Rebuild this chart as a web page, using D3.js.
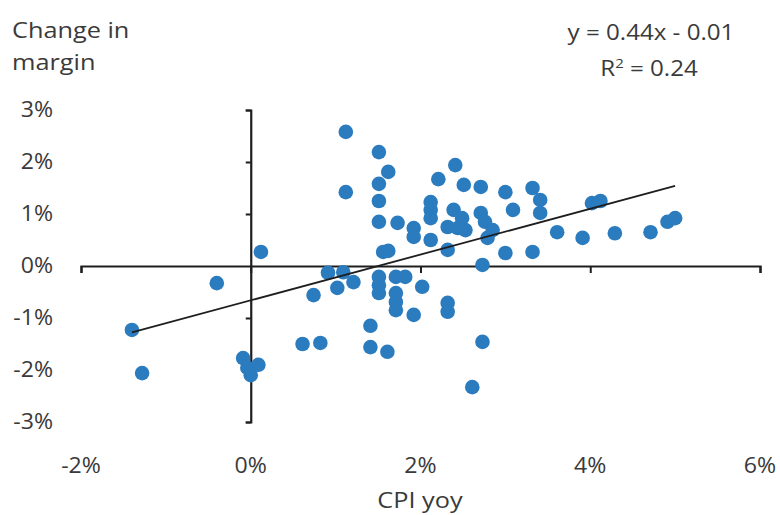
<!DOCTYPE html>
<html>
<head>
<meta charset="utf-8">
<script src="https://cdn.jsdelivr.net/npm/d3@7"></script>
<style>
  html, body { margin: 0; padding: 0; background: #fff; }
  svg { display: block; }
  text { font-family: "Open Sans", "Noto Sans", sans-serif; fill: #3a3a3a; }
</style>
</head>
<body>
<svg id="chart" width="780" height="515"></svg>
<script>
// CPI year-on-year inflation (%), one entry per observation
const cpiYoy = [
  -1.40, -1.28, -0.40, 0.12, -0.09, 0.09, 0.00, -0.04, 0.61, 0.82,
  0.74, 1.12, 1.12, 0.91, 1.09, 1.21, 1.02, 1.41, 1.41, 1.61,
  1.51, 1.62, 1.51, 1.51, 1.51, 1.73, 1.92, 1.92, 1.56, 1.62,
  1.51, 1.51, 1.51, 1.71, 1.82, 1.71, 1.71, 1.71, 2.02, 1.92,
  2.12, 2.12, 2.12, 2.12, 2.21, 2.41, 2.51, 2.71, 3.00, 2.39,
  2.49, 2.32, 2.44, 2.53, 2.71, 2.76, 2.85, 2.79, 2.32, 2.32,
  2.32, 2.73, 2.73, 2.61, 3.00, 3.09, 3.32, 3.41, 3.41, 3.32,
  3.61, 3.91, 4.02, 4.12, 4.29, 4.71, 4.91, 5.00
];

// Change in margin (%), same order as cpiYoy
const marginChange = [
  -1.23, -2.06, -0.33, 0.27, -1.77, -1.90, -2.10, -1.96, -1.50, -1.48,
  -0.56, 2.58, 1.42, -0.13, -0.12, -0.31, -0.42, -1.15, -1.56, -1.65,
  2.19, 1.81, 1.58, 1.25, 0.85, 0.83, 0.73, 0.56, 0.27, 0.29,
  -0.21, -0.37, -0.52, -0.21, -0.21, -0.52, -0.69, -0.85, -0.40, -0.94,
  1.23, 1.08, 0.92, 0.50, 1.67, 1.94, 1.56, 1.52, 1.42, 1.08,
  0.92, 0.75, 0.73, 0.69, 1.02, 0.85, 0.69, 0.54, 0.31, -0.71,
  -0.88, 0.02, -1.46, -2.33, 0.25, 1.08, 1.50, 1.27, 1.02, 0.27,
  0.65, 0.54, 1.21, 1.25, 0.63, 0.65, 0.85, 0.92
];

// Linear trend (decimal units) and its fit
const trendSlope = 0.44;
const trendIntercept = -0.0066;
const trendR2 = 0.24;

// Axis ticks (%)
const xTicks = [-2, 0, 2, 4, 6];
const yTicks = [-3, -2, -1, 0, 1, 2, 3];

const yTitleLines = ["Change in", "margin"];
const xTitle = "CPI yoy";

const svg = d3.select("#chart");

const x = d3.scaleLinear().domain([-2, 6]).range([81, 760]);
const y = d3.scaleLinear().domain([-3, 3]).range([422, 110]);

const pct = v => `${v}%`;

// slightly widened lettering
const widen = (sel, k, ax, ay) => sel.attr("transform", `translate(${ax},${ay}) scale(${k},1) translate(${-ax},${-ay})`);

// x axis along y = 0
const xAxis = svg.append("g")
  .attr("transform", `translate(0,${y(0)})`)
  .call(d3.axisBottom(x).tickValues(xTicks).tickSize(7).tickFormat(""));
xAxis.select(".domain").attr("stroke", "#1e1e1e").attr("stroke-width", 2.2);
xAxis.selectAll(".tick line").attr("stroke", "#1e1e1e").attr("stroke-width", 2);

// y axis along x = 0
const yAxis = svg.append("g")
  .attr("transform", `translate(${x(0)},0)`)
  .call(d3.axisLeft(y).tickValues(yTicks.filter(d => d !== 0)).tickSize(5).tickFormat(""));
yAxis.select(".domain").attr("stroke", "#1e1e1e").attr("stroke-width", 2.2);
yAxis.selectAll(".tick line").attr("stroke", "#1e1e1e").attr("stroke-width", 2);

// tick labels
svg.append("g").selectAll("text")
  .data(xTicks).join("text")
  .attr("x", d => x(d)).attr("y", 473)
  .attr("text-anchor", "middle")
  .attr("font-size", 21)
  .each(function(d) { widen(d3.select(this), 1.1, x(d), 473); })
  .text(pct);

svg.append("g").selectAll("text")
  .data(yTicks).join("text")
  .attr("x", 53).attr("y", d => y(d) + 7)
  .attr("text-anchor", "end")
  .attr("font-size", 21)
  .each(function(d) { widen(d3.select(this), 1.1, 53, y(d)); })
  .text(pct);

// axis titles
widen(svg.append("text")
  .attr("x", 420).attr("y", 508)
  .attr("text-anchor", "middle")
  .attr("font-size", 22)
  .text(xTitle), 1.15, 420, 508);

svg.append("g").selectAll("text")
  .data(yTitleLines).join("text")
  .attr("x", 12).attr("y", (d, i) => 38 + i * 32)
  .attr("font-size", 22)
  .each(function(d, i) { widen(d3.select(this), 1.15, 12, 38 + i * 32); })
  .text(d => d);

// points
const points = cpiYoy.map((v, i) => ({ x: v, y: marginChange[i] }));
svg.append("g").selectAll("circle")
  .data(points).join("circle")
  .attr("cx", d => x(d.x))
  .attr("cy", d => y(d.y))
  .attr("r", 7.3)
  .attr("fill", "#2b7bbf");

// trend line across the data range (percent units)
const xMin = d3.min(cpiYoy), xMax = d3.max(cpiYoy);
const trend = v => trendSlope * v + trendIntercept * 100;
svg.append("line")
  .attr("x1", x(xMin)).attr("y1", y(trend(xMin)))
  .attr("x2", x(xMax)).attr("y2", y(trend(xMax)))
  .attr("stroke", "#1e1e1e")
  .attr("stroke-width", 1.8);

// trend equation
const f2 = d3.format(".2f");
const eqText = `y = ${f2(trendSlope)}x ${trendIntercept < 0 ? "-" : "+"} ${f2(Math.abs(trendIntercept))}`;
widen(svg.append("text")
  .attr("x", 651).attr("y", 40)
  .attr("text-anchor", "middle")
  .attr("font-size", 21)
  .text(eqText), 1.15, 651, 40);

const r2 = svg.append("text")
  .attr("x", 649).attr("y", 76)
  .attr("text-anchor", "middle")
  .attr("font-size", 21);
widen(r2, 1.15, 649, 76);
r2.append("tspan").text("R");
r2.append("tspan").attr("dy", -8).attr("font-size", 13).text("2");
r2.append("tspan").attr("dy", 8).text(` = ${f2(trendR2)}`);
</script>
</body>
</html>
